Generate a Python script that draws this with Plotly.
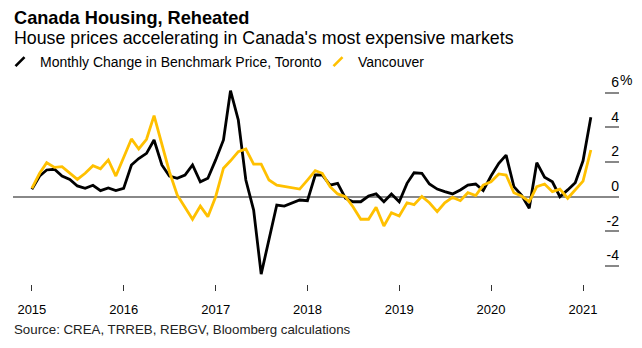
import pandas as pd
import plotly.graph_objects as go

months = pd.date_range("2015-01-01", periods=74, freq="MS")

toronto = [
    0.43, 1.19, 1.54, 1.58, 1.19, 1.00, 0.62, 0.48, 0.66, 0.35, 0.50, 0.35,
    0.48, 1.83, 2.20, 2.50, 3.27, 1.83, 1.19, 1.06, 1.25, 1.83, 0.86, 1.06,
    2.12, 3.27, 6.11, 4.42, 0.96, -0.77, -4.46, -2.50, -0.48, -0.54, -0.35, -0.19,
    -0.23, 1.25, 1.25, 0.67, 0.77, -0.09, -0.29, -0.29, 0.04, 0.16, -0.29, 0.16,
    -0.29, 0.77, 1.38, 1.35, 0.73, 0.44, 0.29, 0.16, 0.39, 0.67, 0.73, 0.35,
    1.19, 1.92, 2.40, 0.58, 0.10, -0.67, 1.96, 1.12, 0.86, 0.00, 0.39, 0.81,
    2.07, 4.58,
]

vancouver = [
    0.48, 1.35, 1.96, 1.69, 1.73, 1.38, 1.00, 1.35, 1.79, 1.61, 2.12, 1.19,
    2.31, 3.33, 2.75, 3.31, 4.67, 2.98, 1.44, 0.10, -0.58, -1.30, -0.54, -1.15,
    0.00, 1.64, 2.07, 2.60, 2.75, 1.88, 1.88, 0.96, 0.67, 0.58, 0.52, 0.44,
    0.96, 1.50, 1.35, 0.58, 0.16, 0.00, -0.58, -1.30, -1.30, -0.61, -1.69, -0.92,
    -1.11, -0.35, -0.46, 0.02, -0.35, -0.86, -0.35, -0.04, -0.23, 0.23, 0.06, 0.67,
    0.86, 1.31, 1.25, 0.23, 0.04, -0.29, 0.58, 0.73, 0.29, 0.44, -0.09, 0.39,
    0.90, 2.69,
]

year_ticks = ["2015-01-01", "2016-01-01", "2017-01-01", "2018-01-01",
              "2019-01-01", "2020-01-01", "2021-01-01"]
year_labels = ["2015", "2016", "2017", "2018", "2019", "2020", "2021"]
y_ticks = [-4, -2, 0, 2, 4, 6]
y_labels = ["-4", "-2", "0", "2", "4", "6"]

series_names = ["Monthly Change in Benchmark Price, Toronto", "Vancouver"]
colors = ["#000000", "#FFC000"]
legend_ids = ["legend", "legend2"]

FONT = "Liberation Sans, Arial, sans-serif"

fig = go.Figure()
for name, vals, col in zip(series_names, [toronto, vancouver], colors):
    fig.add_trace(go.Scatter(
        x=months, y=vals, mode="lines", name=name, showlegend=False,
        line=dict(color=col, width=2.8), hoverinfo="skip",
    ))
# legend-only entries with slash icons
for name, col, lid in zip(series_names, colors, legend_ids):
    fig.add_trace(go.Scatter(
        x=[None], y=[None], mode="markers", name=name, legend=lid,
        marker=dict(symbol="line-ne", size=9, color=col,
                    line=dict(color=col, width=2.6)),
    ))

L, R, T, B = 13, 23, 58, 64
W, H = 642, 348
pw, ph = W - L - R, H - T - B
Y0 = 196.7          # pixel row of value 0
PX_PER_UNIT = 17.35
y_top = (Y0 - T) / PX_PER_UNIT
y_bot = (Y0 - (H - B)) / PX_PER_UNIT


def px(xp):
    return (xp - L) / pw


def py(yp):
    return (H - B - yp) / ph


def legend_box(xpix):
    return dict(
        orientation="h", xref="container", yref="container",
        x=xpix / W, y=1 - 46 / H, xanchor="left", yanchor="top",
        font=dict(size=14, color="#000000"), bgcolor="rgba(0,0,0,0)",
        itemwidth=30, tracegroupgap=0,
    )


fig.update_layout(
    width=W, height=H,
    margin=dict(l=L, r=R, t=T, b=B, pad=0, autoexpand=False),
    paper_bgcolor="white", plot_bgcolor="white",
    font=dict(family=FONT, color="#000000"),
    showlegend=True,
    legend=legend_box(-6),
    legend2=legend_box(318),
    xaxis=dict(
        type="date", range=["2014-10-18", "2021-05-24"],
        tickvals=year_ticks, ticktext=year_labels,
        ticks="outside", ticklen=6, tickwidth=1, tickcolor="#333333",
        ticklabelstandoff=7,
        showgrid=False, showline=False, zeroline=False,
        tickfont=dict(size=13, color="#000000"),
        fixedrange=True,
    ),
    yaxis=dict(
        range=[y_bot, y_top], side="right",
        tickvals=y_ticks, ticktext=y_labels,
        ticks="inside", ticklen=14, tickwidth=1.5, tickcolor="#888888",
        ticklabelposition="inside top", ticklabelstandoff=-3,
        showgrid=False, showline=False,
        zeroline=True, zerolinecolor="#888888", zerolinewidth=1.5,
        tickfont=dict(size=14, color="#000000"),
        fixedrange=True,
    ),
    annotations=[
        dict(text="<b>Canada Housing, Reheated</b>", xref="paper", yref="paper",
             x=px(12), y=py(18), xanchor="left", yanchor="middle",
             showarrow=False, font=dict(size=18.2, color="#000000")),
        dict(text="House prices accelerating in Canada's most expensive markets",
             xref="paper", yref="paper", x=px(12), y=py(38),
             xanchor="left", yanchor="middle", showarrow=False,
             font=dict(size=17.8, color="#000000")),
        dict(text="Source: CREA, TRREB, REBGV, Bloomberg calculations",
             xref="paper", yref="paper", x=px(12), y=py(329),
             xanchor="left", yanchor="middle", showarrow=False,
             font=dict(size=13.3, color="#222222")),
        dict(text="%", xref="paper", yref="y", x=px(617.5), y=6, yshift=13,
             xanchor="left", yanchor="middle", showarrow=False,
             font=dict(size=14, color="#000000")),
    ],
)

fig.write_html("out.html")
